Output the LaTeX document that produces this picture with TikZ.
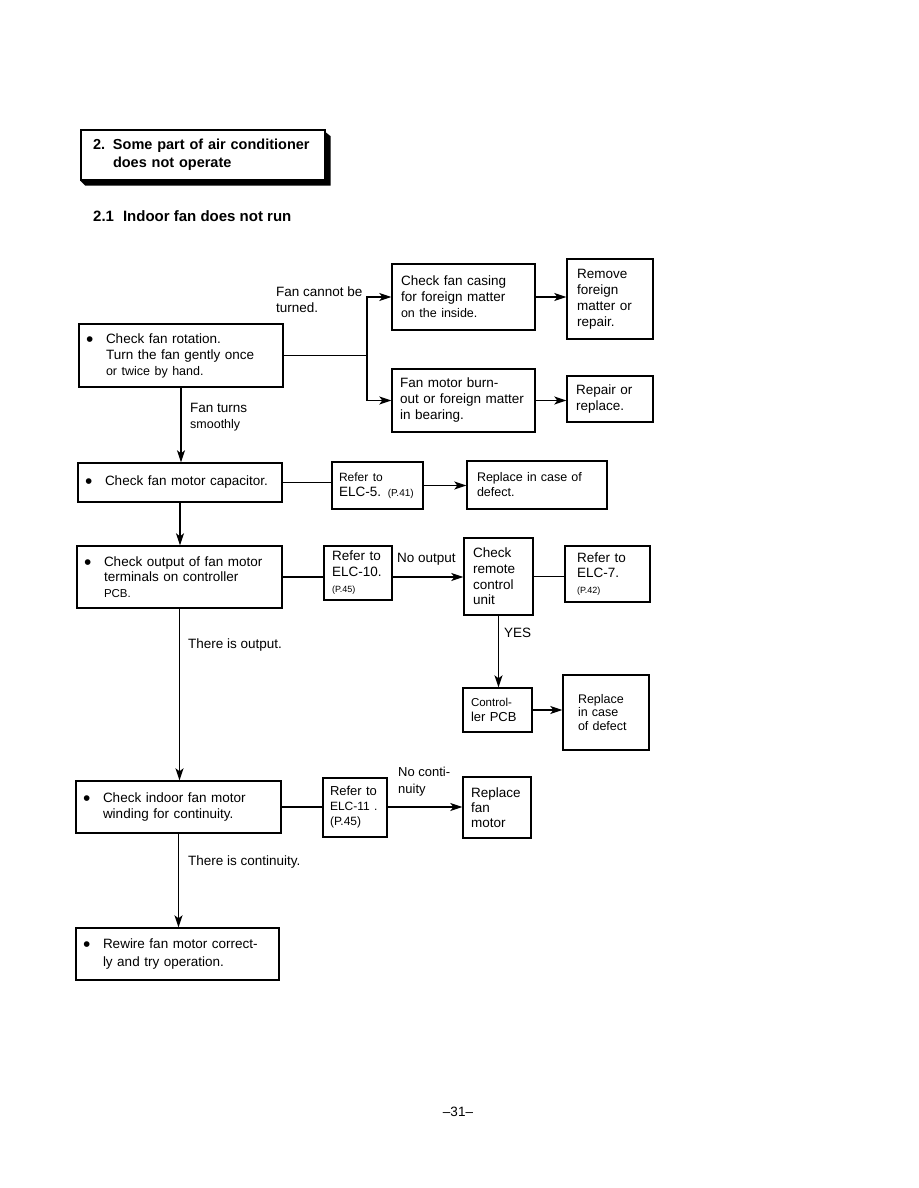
\documentclass[tikz,border=0pt]{standalone}
\usepackage{fontspec}
\usepackage{graphicx}
\setmainfont{Liberation Sans}
\usetikzlibrary{arrows.meta}
\newcommand{\bul}{\makebox[19pt][l]{\hspace*{-1pt}\raisebox{-3pt}{\scalebox{1.55}{•}}}}
\newcommand{\ind}{\hspace*{19pt}}
\newcommand{\fsz}[2]{\fontsize{#1}{#2}\selectfont}
\begin{document}
\begin{tikzpicture}[x=1pt,y=-1pt,
  every node/.style={inner sep=0pt},
  box/.style={draw, line width=1.4pt, inner xsep=9pt, inner ysep=0pt, align=left, font=\fsz{13.5}{16}},
  lbl/.style={anchor=west, align=left, font=\fsz{13.5}{16}},
  ln/.style={line width=1.4pt},
  arr/.style={line width=1.4pt, -{Stealth[length=12pt,width=8pt,inset=3pt]}}
]
\fill[white] (0,0) rectangle (918,1188);
\useasboundingbox (0,0) rectangle (918,1188);

% title
\node[draw, line width=1.4pt, minimum width=244pt, minimum height=50pt, text width=220pt, inner xsep=12pt, align=left, font=\bfseries\fsz{14.5}{18}] (T) at (203,155)
  {\makebox[20pt][l]{2.}Some part of air conditioner\\\hspace*{20pt}does not operate};
\fill ([yshift=-3pt]T.north east) -- ([xshift=5pt,yshift=-7pt]T.north east) -- ([xshift=5pt,yshift=-5pt]T.south east) -- ([xshift=5pt,yshift=-5pt]T.south west) -- (T.south west) -- (T.south east) -- cycle;
\node[anchor=west, font=\bfseries\fsz{15}{18}] (sub) at (93,216) {2.1\hspace{9pt}Indoor fan does not run};

% boxes
\node[box, inner xsep=8pt, minimum width=204pt, minimum height=63pt, text width=188pt] (A) at (181,355.5)
  {\bul Check fan rotation.\\\ind Turn the fan gently once\\\ind{\fsz{12.5}{16}or twice by hand.}};
\node[box, minimum width=143pt, minimum height=66pt, text width=125pt] (B) at (463.5,297)
  {Check fan casing\\for foreign matter\\{\fsz{12.5}{16}on the inside.}};
\node[box, inner xsep=10pt, minimum width=86pt, minimum height=80pt, text width=66pt] (C) at (610,299)
  {Remove\\foreign\\matter or\\repair.};
\node[box, inner xsep=8pt, minimum width=143pt, minimum height=63pt, text width=127pt] (D) at (463.5,400.5)
  {Fan motor burn-\\\mbox{out or foreign matter}\\in bearing.};
\node[box, minimum width=86pt, minimum height=46pt, text width=68pt] (E) at (610,399)
  {Repair or\\replace.};
\node[box, inner xsep=8pt, minimum width=204pt, minimum height=39pt, text width=188pt] (F) at (180,482.5)
  {\bul Check fan motor capacitor.};
\node[box, inner xsep=7pt, minimum width=91pt, minimum height=47pt, text width=77pt, font=\fsz{13.5}{15}] (R5) at (377.5,485.5)
  {{\fsz{12}{15}Refer to}\\\mbox{ELC-5. {\fsz{10}{15}(P.41)}}};
\node[box, inner xsep=10pt, minimum width=140pt, minimum height=48pt, text width=120pt, font=\fsz{12.5}{15}] (G) at (537,485)
  {Replace in case of\\defect.};
\node[box, inner xsep=8pt, minimum width=205pt, minimum height=62pt, text width=189pt, font=\fsz{13.5}{15.5}] (H) at (179.5,577)
  {\bul Check output of fan motor\\\ind terminals on controller\\\ind{\fsz{11.5}{15.5}PCB.}};
\node[box, inner xsep=8pt, minimum width=68pt, minimum height=54pt, text width=52pt, font=\fsz{13.5}{16}] (R10) at (358,573)
  {\mbox{Refer to}\\ELC-10.\\{\fsz{9}{16}(P.45)}};
\node[box, minimum width=69pt, minimum height=77pt, text width=51pt, font=\fsz{13.5}{15.7}] (I) at (498.5,576.5)
  {Check\\remote\\control\\unit};
\node[box, inner xsep=12pt, minimum width=85pt, minimum height=56pt, text width=61pt, font=\fsz{13.5}{15.5}] (J) at (607.5,574)
  {Refer to\\ELC-7.\\{\fsz{9}{15.5}(P.42)}};
\node[box, inner xsep=8pt, minimum width=69pt, minimum height=44pt, text width=53pt, font=\fsz{13}{15}] (K) at (497.5,710)
  {{\fsz{11.5}{15}Control-}\\ler PCB};
\node[box, inner xsep=15pt, minimum width=86pt, minimum height=75pt, text width=56pt, font=\fsz{12.5}{13.5}] (L) at (606,712.5)
  {Replace\\in case\\of defect};
\node[box, inner xsep=8pt, minimum width=205pt, minimum height=52pt, text width=189pt] (M) at (178.5,807)
  {\bul Check indoor fan motor\\\ind winding for continuity.};
\node[box, inner xsep=7pt, minimum width=64pt, minimum height=59pt, text width=50pt, font=\fsz{13}{15}] (R11) at (355,807.5)
  {\mbox{Refer to}\\{\fsz{12}{15}ELC-11 .}\\{\fsz{12}{15}(P.45)}};
\node[box, inner xsep=8pt, minimum width=68pt, minimum height=61pt, text width=52pt, font=\fsz{13.5}{15}] (N) at (497,807.5)
  {Replace\\fan\\motor};
\node[box, inner xsep=8pt, minimum width=203pt, minimum height=52pt, text width=187pt, font=\fsz{13.5}{18}] (O) at (177.5,954)
  {\bul Rewire fan motor correct-\\\ind ly and try operation.};

% labels
\node[lbl] (l1) at (276,300) {Fan cannot be\\turned.};
\node[lbl] (l2) at (190,417.5) {Fan turns\\{\fsz{12.5}{16}smoothly}};
\node[lbl] (l3) at (397,559) {No output};
\node[lbl] (l4) at (504,633) {YES};
\node[lbl] (l5) at (188,645) {There is output.};
\node[lbl, font=\fsz{13}{17}] (l6) at (398,781.5) {No conti-\\nuity};
\node[lbl] (l7) at (188,862) {There is continuity.};
\node[font=\fsz{13.5}{16}] (pg) at (458,1112) {\textendash31\textendash};

% connectors
\coordinate (j) at (367,355.5);
\draw[ln] (A.east) -- (j);
\draw[arr] (j) |- (B.west);
\draw[arr] (j) |- (D.west);
\draw[arr] (B.east) -- (B.east -| C.west);
\draw[arr] (D.east) -- (D.east -| E.west);
\draw[arr] (A.south) -- (A.south |- F.north);
\draw[ln] (F.east) -- (F.east -| R5.west);
\draw[arr] (R5.east) -- (R5.east -| G.west);
\draw[arr] (F.south) -- (F.south |- H.north);
\draw[ln] (H.east) -- (H.east -| R10.west);
\draw[arr] (R10.east |- H.east) -- (H.east -| I.west);
\draw[ln] (I.east) -- (I.east -| J.west);
\draw[arr] (I.south) -- (I.south |- K.north);
\draw[arr] (K.east) -- (K.east -| L.west);
\draw[arr] (H.south) -- (H.south |- M.north);
\draw[ln] (M.east) -- (M.east -| R11.west);
\draw[arr] (R11.east |- M.east) -- (M.east -| N.west);
\draw[arr] (M.south) -- (M.south |- O.north);
\end{tikzpicture}
\end{document}
